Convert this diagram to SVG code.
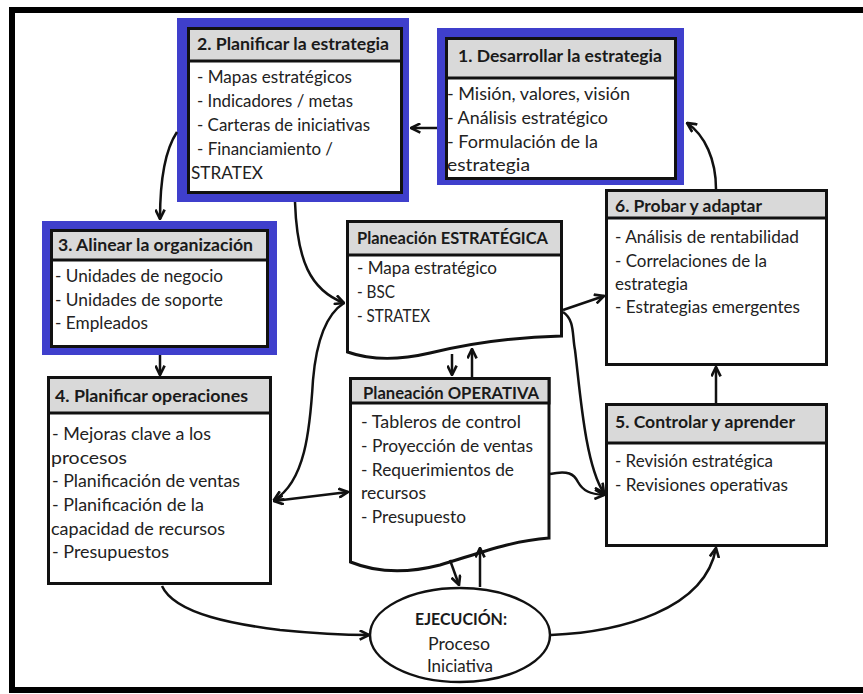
<svg xmlns="http://www.w3.org/2000/svg" width="863" height="694" viewBox="0 0 863 694">
  <style>
    .hd { font-family: Lato, 'Liberation Sans', sans-serif; font-size: 17px; font-weight: bold; fill: #1a1a1a; }
    .tx { font-family: Lato, 'Liberation Sans', sans-serif; font-size: 16.5px; fill: #222222; }
    .box { fill: #ffffff; stroke: #111111; stroke-width: 3; }
    .hdr { fill: #d9d9d9; stroke: #111111; stroke-width: 3; }
    .blue { fill: #3f3fcc; }
    .con { fill: none; stroke: #111111; stroke-width: 2.5; marker-end: url(#arr); }
  </style>
  <defs>
    <marker id="arr" viewBox="0 0 10 10" refX="9" refY="5" markerWidth="11" markerHeight="11" markerUnits="userSpaceOnUse" orient="auto-start-reverse">
      <path d="M0.5,0.8 L9,5 L0.5,9.2" fill="none" stroke="#111111" stroke-width="2.4" stroke-linejoin="miter"/>
    </marker>
  </defs>

  <rect width="863" height="694" fill="#ffffff"/>
  <!-- outer frame -->
  <rect x="12" y="10" width="900" height="680" fill="none" stroke="#000000" stroke-width="6"/>

  <!-- 1. Desarrollar la estrategia -->
  <g id="desarrollar">
    <rect class="blue" x="437" y="28" width="247" height="157"/>
    <rect class="box" x="446.5" y="38.5" width="229" height="140"/>
    <rect class="hdr" x="446.5" y="38.5" width="229" height="39.5"/>
    <text class="hd" x="458" y="62" textLength="204" lengthAdjust="spacingAndGlyphs">1. Desarrollar la estrategia</text>
    <text class="tx" x="447" y="100" textLength="183" lengthAdjust="spacingAndGlyphs">- Misión, valores, visión</text>
    <text class="tx" x="447" y="124" textLength="161" lengthAdjust="spacingAndGlyphs">- Análisis estratégico</text>
    <text class="tx" x="447" y="148" textLength="151" lengthAdjust="spacingAndGlyphs">- Formulación de la</text>
    <text class="tx" x="447" y="171" textLength="83" lengthAdjust="spacingAndGlyphs">estrategia</text>
  </g>

  <!-- 2. Planificar la estrategia -->
  <g id="planificar-estrategia">
    <rect class="blue" x="177" y="18" width="232" height="184"/>
    <rect class="box" x="188.5" y="28.5" width="213" height="164"/>
    <rect class="hdr" x="188.5" y="28.5" width="213" height="32.5"/>
    <text class="hd" x="197" y="50" textLength="192" lengthAdjust="spacingAndGlyphs">2. Planificar la estrategia</text>
    <text class="tx" x="197" y="83" textLength="155" lengthAdjust="spacingAndGlyphs">- Mapas estratégicos</text>
    <text class="tx" x="197" y="107" textLength="156" lengthAdjust="spacingAndGlyphs">- Indicadores / metas</text>
    <text class="tx" x="197" y="131" textLength="173" lengthAdjust="spacingAndGlyphs">- Carteras de iniciativas</text>
    <text class="tx" x="197" y="155" textLength="136" lengthAdjust="spacingAndGlyphs">- Financiamiento /</text>
    <text class="tx" x="191" y="179" textLength="72" lengthAdjust="spacingAndGlyphs">STRATEX</text>
  </g>

  <!-- 3. Alinear la organización -->
  <g id="alinear">
    <rect class="blue" x="42" y="221" width="235" height="134"/>
    <rect class="box" x="51.5" y="230.5" width="216" height="116"/>
    <rect class="hdr" x="51.5" y="230.5" width="216" height="29.5"/>
    <text class="hd" x="58" y="251" textLength="195" lengthAdjust="spacingAndGlyphs">3. Alinear la organización</text>
    <text class="tx" x="55" y="282" textLength="168" lengthAdjust="spacingAndGlyphs">- Unidades de negocio</text>
    <text class="tx" x="55" y="306" textLength="168" lengthAdjust="spacingAndGlyphs">- Unidades de soporte</text>
    <text class="tx" x="55" y="329" textLength="93" lengthAdjust="spacingAndGlyphs">- Empleados</text>
  </g>

  <!-- 4. Planificar operaciones -->
  <g id="planificar-operaciones">
    <rect class="box" x="48.5" y="377.5" width="222" height="206"/>
    <rect class="hdr" x="48.5" y="377.5" width="222" height="35.5"/>
    <text class="hd" x="55" y="402" textLength="193" lengthAdjust="spacingAndGlyphs">4. Planificar operaciones</text>
    <text class="tx" x="52" y="440" textLength="159" lengthAdjust="spacingAndGlyphs">- Mejoras clave a los</text>
    <text class="tx" x="51" y="464" textLength="76" lengthAdjust="spacingAndGlyphs">procesos</text>
    <text class="tx" x="52" y="487" textLength="188" lengthAdjust="spacingAndGlyphs">- Planificación de ventas</text>
    <text class="tx" x="52" y="511" textLength="152" lengthAdjust="spacingAndGlyphs">- Planificación de la</text>
    <text class="tx" x="51" y="535" textLength="174" lengthAdjust="spacingAndGlyphs">capacidad de recursos</text>
    <text class="tx" x="52" y="558" textLength="117" lengthAdjust="spacingAndGlyphs">- Presupuestos</text>
  </g>

  <!-- Planeación ESTRATÉGICA (document) -->
  <g id="planeacion-estrategica">
    <path class="box" d="M347.5,221.5 H561.5 V336 C520,337 470,343 430,353 C400,360 370,360 347.5,352 Z"/>
    <rect class="hdr" x="347.5" y="221.5" width="214" height="33.5"/>
    <text class="hd" x="357" y="244" textLength="191" lengthAdjust="spacingAndGlyphs">Planeación ESTRATÉGICA</text>
    <text class="tx" x="357" y="274" textLength="140" lengthAdjust="spacingAndGlyphs">- Mapa estratégico</text>
    <text class="tx" x="357" y="298" textLength="38" lengthAdjust="spacingAndGlyphs">- BSC</text>
    <text class="tx" x="357" y="322" textLength="73" lengthAdjust="spacingAndGlyphs">- STRATEX</text>
  </g>

  <!-- Planeación OPERATIVA (document) -->
  <g id="planeacion-operativa">
    <path class="box" d="M350.5,378.5 H549 V538 C510,541 480,553 440,565 C405,574 375,572 350.5,562 Z"/>
    <rect class="hdr" x="350.5" y="378.5" width="198.5" height="24.5"/>
    <text class="hd" x="363" y="399" textLength="176" lengthAdjust="spacingAndGlyphs">Planeación OPERATIVA</text>
    <text class="tx" x="361" y="428" textLength="160" lengthAdjust="spacingAndGlyphs">- Tableros de control</text>
    <text class="tx" x="361" y="452" textLength="172" lengthAdjust="spacingAndGlyphs">- Proyección de ventas</text>
    <text class="tx" x="361" y="476" textLength="153" lengthAdjust="spacingAndGlyphs">- Requerimientos de</text>
    <text class="tx" x="361" y="499" textLength="65" lengthAdjust="spacingAndGlyphs">recursos</text>
    <text class="tx" x="361" y="523" textLength="105" lengthAdjust="spacingAndGlyphs">- Presupuesto</text>
  </g>

  <!-- 6. Probar y adaptar -->
  <g id="probar">
    <rect class="box" x="606.5" y="190.5" width="220" height="174"/>
    <rect class="hdr" x="606.5" y="190.5" width="220" height="27.5"/>
    <text class="hd" x="615" y="212" textLength="147" lengthAdjust="spacingAndGlyphs">6. Probar y adaptar</text>
    <text class="tx" x="615" y="243" textLength="184" lengthAdjust="spacingAndGlyphs">- Análisis de rentabilidad</text>
    <text class="tx" x="615" y="267" textLength="152" lengthAdjust="spacingAndGlyphs">- Correlaciones de la</text>
    <text class="tx" x="615" y="290" textLength="73" lengthAdjust="spacingAndGlyphs">estrategia</text>
    <text class="tx" x="615" y="313" textLength="185" lengthAdjust="spacingAndGlyphs">- Estrategias emergentes</text>
  </g>

  <!-- 5. Controlar y aprender -->
  <g id="controlar">
    <rect class="box" x="606.5" y="404.5" width="220" height="141"/>
    <rect class="hdr" x="606.5" y="404.5" width="220" height="38.5"/>
    <text class="hd" x="615" y="428" textLength="180" lengthAdjust="spacingAndGlyphs">5. Controlar y aprender</text>
    <text class="tx" x="615" y="467" textLength="158" lengthAdjust="spacingAndGlyphs">- Revisión estratégica</text>
    <text class="tx" x="615" y="491" textLength="173" lengthAdjust="spacingAndGlyphs">- Revisiones operativas</text>
  </g>

  <!-- Ejecución -->
  <g id="ejecucion">
    <ellipse cx="460" cy="635" rx="90" ry="47" fill="#ffffff" stroke="#111111" stroke-width="2.5"/>
    <text class="hd" x="461" y="625" text-anchor="middle" textLength="92" lengthAdjust="spacingAndGlyphs">EJECUCIÓN:</text>
    <text class="tx" x="459" y="650" text-anchor="middle" textLength="62" lengthAdjust="spacingAndGlyphs">Proceso</text>
    <text class="tx" x="460" y="672" text-anchor="middle" textLength="66" lengthAdjust="spacingAndGlyphs">Iniciativa</text>
  </g>

  <!-- connectors -->
  <g id="connectors">
    <path class="con" d="M437,128 L411,128"/>
    <path class="con" d="M177,132 C165,150 160,180 160,219"/>
    <path class="con" d="M160,355 L160,375"/>
    <path class="con" d="M295,202 C297,260 310,290 344,303"/>
    <path class="con" d="M344,303 C325,315 316,345 313,380 C310,430 305,482 274,500"/>
    <path class="con" d="M274,501 L348,492" marker-start="url(#arr)"/>
    <path class="con" d="M452,354 L452,375"/>
    <path class="con" d="M472,377 L472,349"/>
    <path class="con" d="M563,310 L604,296"/>
    <path class="con" d="M563,312 C575,320 572,335 575,350 C580,390 585,465 604,493"/>
    <path class="con" d="M550,474 C568,470 574,474 578,482 C583,491 590,494 604,495"/>
    <path class="con" d="M162,586 C175,615 240,625 280,630 C320,634 345,635 369,635"/>
    <path class="con" d="M551,635 C620,632 705,610 716,548"/>
    <path class="con" d="M716,403 L716,367"/>
    <path class="con" d="M716,189 C716,160 705,135 687,123"/>
    <path class="con" d="M450,560 L459,585"/>
    <path class="con" d="M480,587 L480,548"/>
  </g>
</svg>
